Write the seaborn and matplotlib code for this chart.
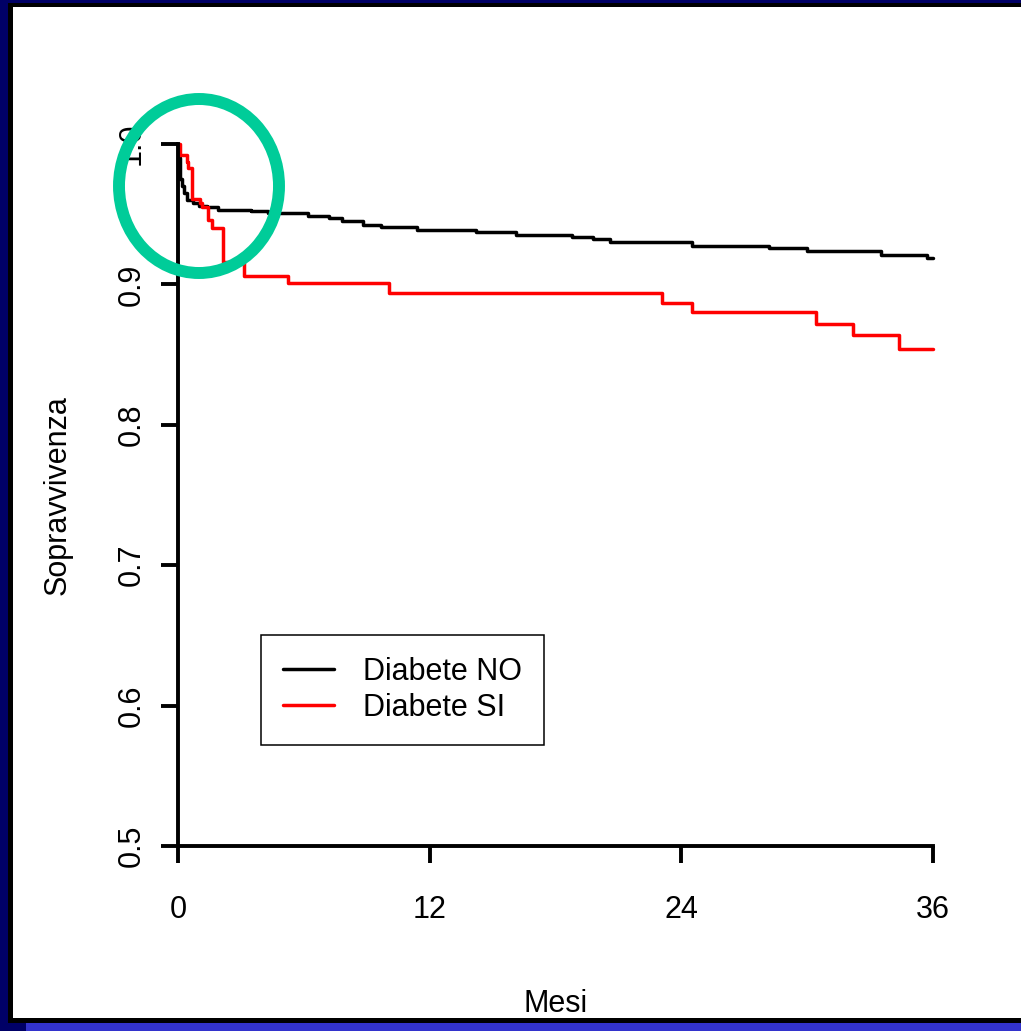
import matplotlib
matplotlib.use("Agg")
import matplotlib.pyplot as plt
from matplotlib.patches import Rectangle, Ellipse
import pandas as pd
import seaborn as sns

# Kaplan-Meier curves (months, survival)
time_no = [0, 0.05, 0.1, 0.2, 0.3, 0.45, 0.7, 1.0, 1.4, 1.9, 3.5, 4.3, 6.2, 7.2, 7.8,
           8.8, 9.7, 11.4, 14.2, 16.1, 18.8, 19.8, 20.6, 24.5, 28.2, 30.0, 33.5, 35.7, 36]
surv_no = [1.0, 0.99, 0.975, 0.970, 0.965, 0.960, 0.958, 0.956, 0.955, 0.953, 0.952, 0.951,
           0.949, 0.947, 0.945, 0.942, 0.941, 0.939, 0.937, 0.935, 0.934, 0.932, 0.930,
           0.927, 0.926, 0.924, 0.921, 0.919, 0.919]

time_si = [0, 0.1, 0.41, 0.48, 0.65, 1.05, 1.13, 1.45, 1.6, 2.15, 3.15, 5.25, 10.05,
           23.1, 24.5, 30.4, 32.2, 34.4, 36]
surv_si = [1.0, 0.992, 0.987, 0.983, 0.961, 0.958, 0.955, 0.946, 0.940, 0.916, 0.906,
           0.901, 0.894, 0.887, 0.880, 0.872, 0.864, 0.854, 0.854]

labels = ["Diabete NO", "Diabete SI"]
colors = ["black", "#FF0000"]
x_ticks = [0, 12, 24, 36]
y_ticks = [0.5, 0.6, 0.7, 0.8, 0.9, 1.0]

sns.set_style("ticks")
plt.rcParams["font.family"] = ["Liberation Sans", "DejaVu Sans"]
plt.rcParams.update({"text.color": "black", "axes.labelcolor": "black",
                     "xtick.color": "black", "ytick.color": "black",
                     "axes.edgecolor": "black"})

W, H = 1021, 1031
fig = plt.figure(figsize=(W / 100, H / 100), dpi=100)
fig.patch.set_facecolor("#000066")


def px_rect(x0, y0, x1, y1, color):
    # rectangle given in pixel coords measured from the top-left
    fig.patches.append(Rectangle((x0 / W, 1 - y1 / H), (x1 - x0) / W, (y1 - y0) / H,
                                 transform=fig.transFigure, facecolor=color,
                                 edgecolor="none", zorder=-5))


px_rect(8, 3, W, 1023, "black")
px_rect(12.5, 7, W, 1018, "white")
px_rect(26, 1023, W, H, "#3333CC")

ax = fig.add_axes([178 / W, 1 - 846 / H, (933 - 178) / W, (846 - 144) / H])
ax.set_facecolor("white")

df = pd.concat([
    pd.DataFrame({"Mesi": time_no, "Sopravvivenza": surv_no, "gruppo": labels[0]}),
    pd.DataFrame({"Mesi": time_si, "Sopravvivenza": surv_si, "gruppo": labels[1]}),
])
for lab, col in zip(labels, colors):
    sub = df[df["gruppo"] == lab]
    sns.lineplot(data=sub, x="Mesi", y="Sopravvivenza", ax=ax, color=col, lw=2.5,
                 drawstyle="steps-post", estimator=None, sort=False, label=lab,
                 clip_on=False)

ax.set_xlim(0, 36)
ax.set_ylim(0.5, 1.0)
ax.set_xticks(x_ticks)
ax.set_xticklabels([str(t) for t in x_ticks])
ax.set_yticks(y_ticks)
ax.set_yticklabels([f"{t:.1f}" for t in y_ticks], rotation=90, va="center")
for s in ["top", "right"]:
    ax.spines[s].set_visible(False)
for s in ["left", "bottom"]:
    ax.spines[s].set_linewidth(2.8)
    ax.spines[s].set_color("black")
ax.tick_params(axis="both", length=12.5, width=2.8, labelsize=22, color="black",
               labelcolor="black")
ax.tick_params(axis="x", pad=23)
ax.tick_params(axis="y", pad=10)

ax.set_xlabel("Mesi", fontsize=22, color="black")
ax.set_ylabel("Sopravvivenza", fontsize=22, color="black")
ax.xaxis.set_label_coords(0.5, -0.204)
ax.yaxis.set_label_coords(-0.140, 0.5)

leg = ax.legend(loc="upper left", bbox_to_anchor=(261 / W, 1 - 635 / H),
                bbox_transform=fig.transFigure, borderaxespad=0, fontsize=22,
                frameon=True, fancybox=False, framealpha=1, edgecolor="black",
                handlelength=1.67, handletextpad=0.95, labelspacing=0.18,
                borderpad=0.72)
leg.get_frame().set_linewidth(1.1)
for t in leg.get_texts():
    t.set_color("black")

# green highlight ring around the early drop
fig.patches.append(Ellipse((199 / W, 1 - 186 / H), 160 / W, 174 / H,
                           transform=fig.transFigure, fill=False,
                           edgecolor="#00CC99", lw=8.6, zorder=5))

fig.savefig("out.png", dpi=100, facecolor=fig.get_facecolor())
